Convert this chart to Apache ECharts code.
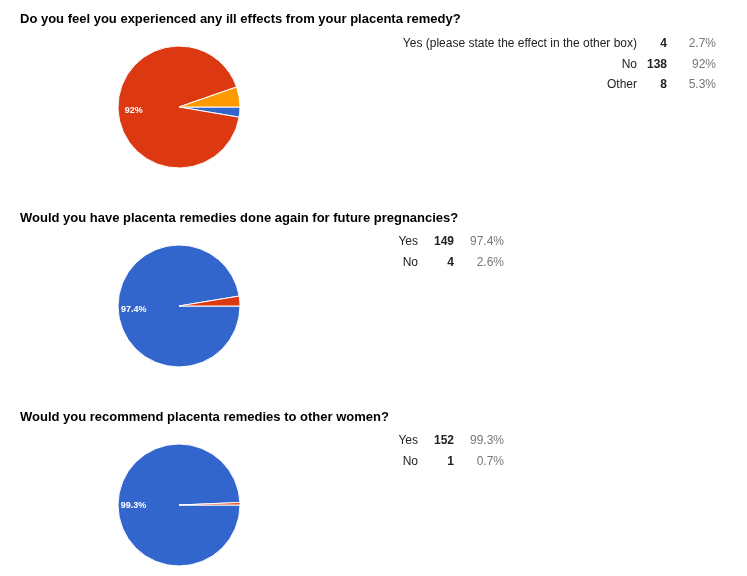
<!DOCTYPE html>
<html><head><meta charset="utf-8">
<script src="https://cdn.jsdelivr.net/npm/echarts@6/dist/echarts.min.js"></script>
<style>html,body{margin:0;padding:0;background:#fff}#c{width:747px;height:576px}</style>
</head><body><div id="c"></div>
<script>
const titles = [
  "Do you feel you experienced any ill effects from your placenta remedy?",
  "Would you have placenta remedies done again for future pregnancies?",
  "Would you recommend placenta remedies to other women?"
];
const cats1 = ["Yes (please state the effect in the other box)", "No", "Other"];
const vals1 = [4, 138, 8];
const pcts1 = ["2.7%", "92%", "5.3%"];
const cols1 = ["#3366cc", "#dc3912", "#ff9900"];
const cats2 = ["Yes", "No"];
const vals2 = [149, 4];
const pcts2 = ["97.4%", "2.6%"];
const cats3 = ["Yes", "No"];
const vals3 = [152, 1];
const pcts3 = ["99.3%", "0.7%"];
const cols23 = ["#3366cc", "#dc3912"];

const blocks = [
  {cats: cats1, vals: vals1, pcts: pcts1, cols: cols1, top: 0, cols_x: [637, 667, 716], rowY: 44},
  {cats: cats2, vals: vals2, pcts: pcts2, cols: cols23, top: 199, cols_x: [418, 454, 504], rowY: 242},
  {cats: cats3, vals: vals3, pcts: pcts3, cols: cols23, top: 398, cols_x: [418, 454, 504], rowY: 441}
];
const font = "Arial, 'Liberation Sans', sans-serif";
const series = [];
const graphic = [];
blocks.forEach((b, i) => {
  const cy = b.top + 107;
  const data = b.cats.map((c, j) => ({name: c, value: b.vals[j], itemStyle: {color: b.cols[j]}}));
  series.push({
    type: 'pie', center: [179, cy], radius: [0, 61], startAngle: 0, clockwise: true,
    silent: true, animation: false, label: {show: false}, labelLine: {show: false},
    itemStyle: {borderColor: '#fff', borderWidth: 1}, data: data
  });
  series.push({
    type: 'pie', center: [179, cy], radius: [24, 61], startAngle: 0, clockwise: true,
    silent: true, animation: false, labelLine: {show: false},
    itemStyle: {color: 'rgba(0,0,0,0)'},
    label: {show: true, position: 'inside', color: '#fff', fontSize: 9, fontWeight: 'bold', fontFamily: font,
      formatter: p => p.percent > 50 ? b.pcts[p.dataIndex] : ''},
    data: b.cats.map((c, j) => ({name: c, value: b.vals[j]}))
  });
  graphic.push({type: 'text', left: 20, top: b.top + 13,
    style: {text: titles[i], font: "bold 13px " + font, fill: '#000'}});
  b.cats.forEach((c, j) => {
    const y = b.rowY + j * 20.5;
    graphic.push({type: 'text', x: b.cols_x[0], y: y, style: {text: c, font: "12px " + font, fill: '#222', align: 'right', verticalAlign: 'middle'}});
    graphic.push({type: 'text', x: b.cols_x[1], y: y, style: {text: String(b.vals[j]), font: "bold 12px " + font, fill: '#222', align: 'right', verticalAlign: 'middle'}});
    graphic.push({type: 'text', x: b.cols_x[2], y: y, style: {text: b.pcts[j], font: "12px " + font, fill: '#777', align: 'right', verticalAlign: 'middle'}});
  });
});
const chart = echarts.init(document.getElementById('c'));
chart.setOption({animation: false, series: series, graphic: graphic});
</script>
</body></html>
